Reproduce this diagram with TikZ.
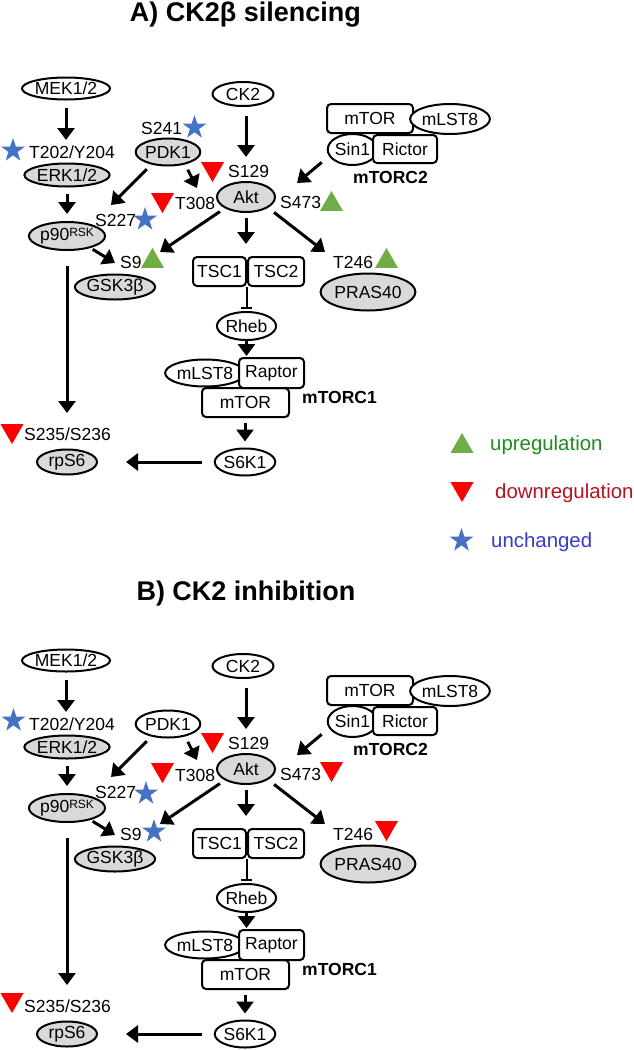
\documentclass[tikz,border=0pt]{standalone}
\usepackage{fontspec}
\setmainfont{Liberation Sans}
\usetikzlibrary{arrows.meta,shapes.geometric}
\definecolor{nodegray}{HTML}{D9D9D9}
\definecolor{upgreen}{HTML}{70AD47}
\definecolor{downred}{HTML}{FF0000}
\definecolor{stblue}{HTML}{4472C4}
\definecolor{legup}{HTML}{1E8C1E}
\definecolor{legdown}{HTML}{B4141E}
\definecolor{legstar}{HTML}{3A3ACF}
\tikzset{
 every node/.style={font=\fontsize{17.5}{19}\selectfont, inner sep=0pt},
 ell/.style={ellipse, draw, line width=2pt, fill=white, inner sep=0pt},
 gell/.style={ell, fill=nodegray},
 rbox/.style={rectangle, rounded corners=4pt, draw, line width=2pt, fill=white, inner sep=0pt},
 site/.style={anchor=west, inner sep=0pt},
 arr/.style={line width=3pt, -{Triangle[length=12pt,width=17pt]}},
 inh/.style={line width=2pt, -{Bar[width=11pt,line width=2pt]}},
 upm/.style={regular polygon, regular polygon sides=3, fill=upgreen, minimum size=26.6pt, inner sep=0pt},
 downm/.style={upm, fill=downred, shape border rotate=180},
 starm/.style={star, star points=5, star point ratio=2.6, fill=stblue, minimum size=25pt, inner sep=0pt},
 ttl/.style={font=\fontsize{27}{30}\selectfont\bfseries},
 cplx/.style={font=\fontsize{17.5}{19}\selectfont\bfseries},
 legtxt/.style={anchor=west, font=\fontsize{20.4}{23}\selectfont},
}
\newcommand{\pathwaycore}{%
 \node[ell, minimum width=83pt, minimum height=22pt] (mek) at (66,88.5) {MEK1/2};
 \node[ell, minimum width=61pt, minimum height=24pt] (ck2) at (243,94) {CK2};
 \node[gell, minimum width=74pt, minimum height=23pt] (erk) at (67,175) {ERK1/2};
 \node[pdkstyle, minimum width=59pt, minimum height=27pt] (pdk) at (168,152) {PDK1};
 \node[gell, minimum width=65pt, minimum height=28pt] (p90) at (67,236) {p90{\fontsize{12}{12}\selectfont\raisebox{4pt}{RSK}}};
 \node[gell, minimum width=58pt, minimum height=30pt] (akt) at (246,197) {Akt};
 \node[gell, minimum width=75pt, minimum height=25pt] (gsk) at (115,287) {GSK3β};
 \node[gell, minimum width=74pt, minimum height=37pt] (pras) at (368,292) {PRAS40};
 \node[rbox, minimum width=53pt, minimum height=29pt] (tsc1) at (219.5,271.5) {TSC1};
 \node[rbox, minimum width=56pt, minimum height=29pt] (tsc2) at (276,271.5) {TSC2};
 \node[ell, minimum width=47pt, minimum height=28pt] (rheb) at (246.5,326) {Rheb};
 \node[rbox, minimum width=87pt, minimum height=29pt] (mtor1) at (245.5,402.5) {mTOR};
 \node[ell, minimum width=66pt, minimum height=27pt] (mlst1) at (205,373) {mLST8};
 \node[rbox, minimum width=65pt, minimum height=30pt] (raptor) at (271.5,373) {Raptor};
 \node[cplx, anchor=west] (c1lbl) at (302,397) {mTORC1};
 \node[ell, minimum width=59pt, minimum height=27pt] (s6k1) at (245,462) {S6K1};
 \node[gell, minimum width=60pt, minimum height=25pt] (rps6) at (67,462) {rpS6};
 \node[rbox, minimum width=86pt, minimum height=29pt] (mtor2) at (370,118.5) {mTOR};
 \node[ell, minimum width=70pt, minimum height=30pt] (mlst2) at (450,119) {mLST8};
 \node[ell, minimum width=39pt, minimum height=31pt] (sin1) at (352.5,149.5) {Sin1};
 \node[rbox, minimum width=64pt, minimum height=28pt] (rictor) at (405,149) {Rictor};
 \node[cplx] (c2lbl) at (390.5,177) {mTORC2};
 \node[site] (t202) at (29,152) {T202/Y204};
 \node[site] (s129) at (228,171) {S129};
 \node[site] (t308) at (175,203) {T308};
 \node[site] (s473) at (280,202) {S473};
 \node[site] (s227) at (95,220) {S227};
 \node[site] (s9) at (120,262) {S9};
 \node[site] (t246) at (333,262) {T246};
 \node[site] (s235) at (24,434) {S235/S236};
 \coordinate (h1) at (66,140);
 \coordinate (h3) at (197,188);
 \coordinate (h4) at (111,205);
 \coordinate (h5) at (246,157);
 \coordinate (h6) at (297,183);
 \coordinate (h7) at (115,263);
 \coordinate (h8) at (160,252);
 \coordinate (h10) at (325,252);
 \coordinate (h15) at (67,413);
 \draw[arr, shorten <=7.5pt] (mek.south) -- (h1);
 \draw[arr, shorten <=6.5pt, shorten >=7pt] (erk) -- (p90);
 \draw[arr, shorten <=6pt] (pdk.-36) -- (h3);
 \draw[arr, shorten <=6.4pt] (pdk.-143) -- (h4);
 \draw[arr, shorten <=9pt] (ck2.south -| akt.north) -- (h5);
 \draw[arr, shorten <=9.5pt] (sin1.-164) -- (h6);
 \draw[arr, shorten <=2.5pt] (p90.-27) -- (h7);
 \draw[arr, shorten <=5.8pt] (akt.-152) -- (h8);
 \draw[arr, shorten <=5pt, shorten >=12pt] (akt.south) -- (akt.south |- tsc1.north);
 \draw[arr, shorten <=7.5pt] (akt.-26) -- (h10);
 \draw[inh, shorten >=2pt] (rheb.north |- tsc1.south) -- (rheb.north);
 \draw[arr, shorten >=1pt] (rheb.south) -- (rheb.south |- raptor.north);
 \draw[arr, shorten <=5pt, shorten >=6pt] (mtor1.south -| s6k1.north) -- (s6k1.north);
 \draw[arr, shorten <=11.5pt, shorten >=28pt] (s6k1) -- (rps6);
 \draw[arr, shorten <=15pt] (p90.south) -- (h15);
}
\begin{document}
\begin{tikzpicture}[x=1pt,y=-1pt]
\path[use as bounding box, fill=white] (0,0) rectangle (633,1050);
\begin{scope}[name prefix=A-, pdkstyle/.style={gell}]
 \pathwaycore
 \node[ttl] (title) at (245.5,15) {A) CK2β silencing};
 \node[site] (s241) at (141,128) {S241};
 \node[starm] (m-t202) at (13,150.5) {};
 \node[starm] (m-s241) at (194.5,127.5) {};
 \node[starm] (m-s227) at (145,219.5) {};
 \node[downm] (m-s129) at (212.5,168.7) {};
 \node[downm] (m-t308) at (162.5,199.7) {};
 \node[upm] (m-s473) at (331.5,204.3) {};
 \node[upm] (m-s9) at (152.5,261.3) {};
 \node[upm] (m-t246) at (386.5,261.3) {};
 \node[downm] (m-s235) at (12,430.7) {};
\end{scope}
\begin{scope}[shift={(0,572)}, name prefix=B-, pdkstyle/.style={ell}]
 \pathwaycore
 \node[ttl] (title) at (246,22) {B) CK2 inhibition};
 \node[starm] (m-t202) at (13.5,148.5) {};
 \node[downm] (m-s129) at (212.5,167.7) {};
 \node[downm] (m-t308) at (162.5,197.7) {};
 \node[downm] (m-s473) at (331.5,196.7) {};
 \node[starm] (m-s227) at (146,221.5) {};
 \node[starm] (m-s9) at (154,259.5) {};
 \node[downm] (m-t246) at (386.5,255.7) {};
 \node[downm] (m-s235) at (12,427.7) {};
\end{scope}
\node[upm] (leg-up) at (462,446.3) {};
\node[legtxt, text=legup] (leg-uptxt) at (490,445) {upregulation};
\node[downm] (leg-down) at (462,488.7) {};
\node[legtxt, text=legdown] (leg-downtxt) at (495,493) {downregulation};
\node[starm] (leg-star) at (461.5,540.5) {};
\node[legtxt, text=legstar] (leg-startxt) at (491,542) {unchanged};
\end{tikzpicture}
\end{document}
